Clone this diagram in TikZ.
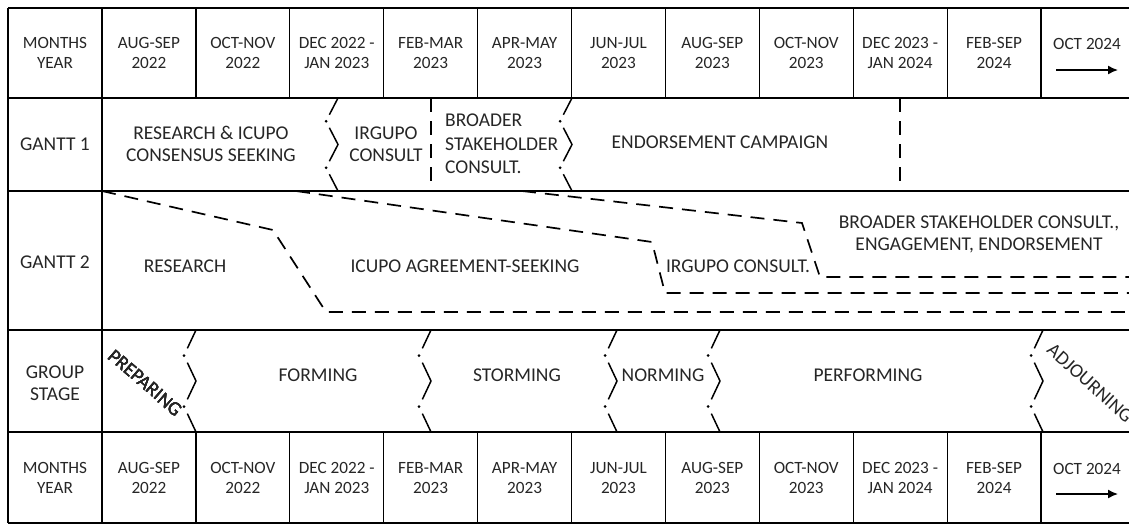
\documentclass[tikz,border=0pt]{standalone}
\usepackage{fontspec}
\setmainfont{Carlito}
\usetikzlibrary{calc,arrows.meta}

\tikzset{
  cell/.style={align=center, text=black!85, inner sep=0pt,
    font=\fontsize{19.5}{22}\selectfont},
  monthcell/.style={cell, font=\fontsize{17.2}{19.5}\selectfont},
  frame/.style={line width=1.8pt},
  colline/.style={line width=1.2pt},
  phaseline/.style={line width=1.7pt, dash pattern=on 14pt off 9pt},
  breakline/.style={line width=1.5pt},
  timearrow/.style={-{Latex[length=10pt,width=9pt]}, line width=1.5pt},
}

\newcommand{\phasemark}[3]{%
  \coordinate (p0) at (#1,#2);
  \coordinate (p1) at ({#1-12},{#2+0.25*(#3-#2)});
  \coordinate (p2) at (#1,{#2+0.5*(#3-#2)});
  \coordinate (p3) at ({#1-12},{#2+0.75*(#3-#2)});
  \coordinate (p4) at (#1,#3);
  \draw[breakline] (p0) -- ($(p0)!0.72!(p1)$);
  \fill (p1) circle (1.5pt);
  \draw[breakline] ($(p1)!0.28!(p2)$) -- (p2) -- ($(p2)!0.72!(p3)$);
  \fill (p3) circle (1.5pt);
  \draw[breakline] ($(p3)!0.28!(p4)$) -- (p4);
}

\begin{document}
\begin{tikzpicture}[x=1pt,y=-1pt]

    \useasboundingbox (0,0) rectangle (1129,525);

    \foreach \y in {8,98,191,330,432,523}
        \draw[frame] (8,\y) -- (1135,\y);
    \draw[frame] (8,8) -- (8,523);
    \draw[frame] (102,8) -- (102,523);
    \foreach \k in {1,...,10} {
        \draw[colline] ({102+93.9*\k},8) -- ({102+93.9*\k},98);
        \draw[colline] ({102+93.9*\k},432) -- ({102+93.9*\k},523);
    }

    \node[monthcell] (monthstop) at (55,53) {MONTHS\\YEAR};
    \node[cell] (gantt1) at (55,144) {GANTT 1};
    \node[cell] (gantt2) at (55,262) {GANTT 2};
    \node[cell] (groupstage) at (55,383) {GROUP\\STAGE};
    \node[monthcell] (monthsbot) at (55,478) {MONTHS\\YEAR};

    \foreach \m [count=\i from 0] in {{AUG-SEP\\2022},{OCT-NOV\\2022},{DEC 2022 -\\JAN 2023},{FEB-MAR\\2023},{APR-MAY\\2023},{JUN-JUL\\2023},{AUG-SEP\\2023},{OCT-NOV\\2023},{DEC 2023 -\\JAN 2024},{FEB-SEP\\2024}} {
        \node[monthcell] (top\i) at ({102+93.9*(\i+0.5)},53) {\m};
        \node[monthcell] (bot\i) at ({102+93.9*(\i+0.5)},478) {\m};
    }

    \node[monthcell] (toplast) at (1087,44) {OCT 2024};
    \coordinate (topa) at (1056,70);
    \coordinate (topb) at (1118,70);
    \draw[timearrow] (topa) -- (topb);
    \node[monthcell] (botlast) at (1087,469) {OCT 2024};
    \coordinate (bota) at (1056,494);
    \coordinate (botb) at (1118,494);
    \draw[timearrow] (bota) -- (botb);

    \node[cell] (research1) at (211,144) {RESEARCH \& ICUPO\\CONSENSUS SEEKING};
    \node[cell] (irgupo1) at (386,144) {IRGUPO\\CONSULT};
    \node[cell, align=left, anchor=west, font=\fontsize{19.5}{23.5}\selectfont] (broader1) at (445,144) {BROADER\\STAKEHOLDER\\CONSULT.};
    \node[cell] (campaign1) at (720,142) {ENDORSEMENT CAMPAIGN};
    \draw[phaseline] (431,98) -- (431,191);
    \draw[phaseline] (900,98) -- (900,191);
    \phasemark{338}{98}{191}
    \phasemark{572}{98}{191}

    \draw[phaseline] (102,191) -- (273,230) -- (326,312) -- (1135,312);
    \draw[phaseline] (296,191) -- (652,242) -- (665,293) -- (1135,293);
    \draw[phaseline] (522,191) -- (802,223) -- (820,277) -- (1135,277);
    \node[cell] (research2) at (185,266) {RESEARCH};
    \node[cell] (icupo2) at (465,266) {ICUPO AGREEMENT-SEEKING};
    \node[cell] (irgupo2) at (738,266) {IRGUPO CONSULT.};
    \node[cell] (broader2) at (979,234) {BROADER STAKEHOLDER CONSULT.,\\ENGAGEMENT, ENDORSEMENT};

    \foreach \x in {196,431,617,720,1043}
        \phasemark{\x}{330}{432}
    \node[cell, rotate=-41] (preparing) at (145,383) {PREPARING};
    \node[cell] (forming) at (318,375) {FORMING};
    \node[cell] (storming) at (517,375) {STORMING};
    \node[cell] (norming) at (663,375) {NORMING};
    \node[cell] (performing) at (868,375) {PERFORMING};
    \node[cell, rotate=-42] (adjourning) at (1090,383) {ADJOURNING};

\end{tikzpicture}
\end{document}
